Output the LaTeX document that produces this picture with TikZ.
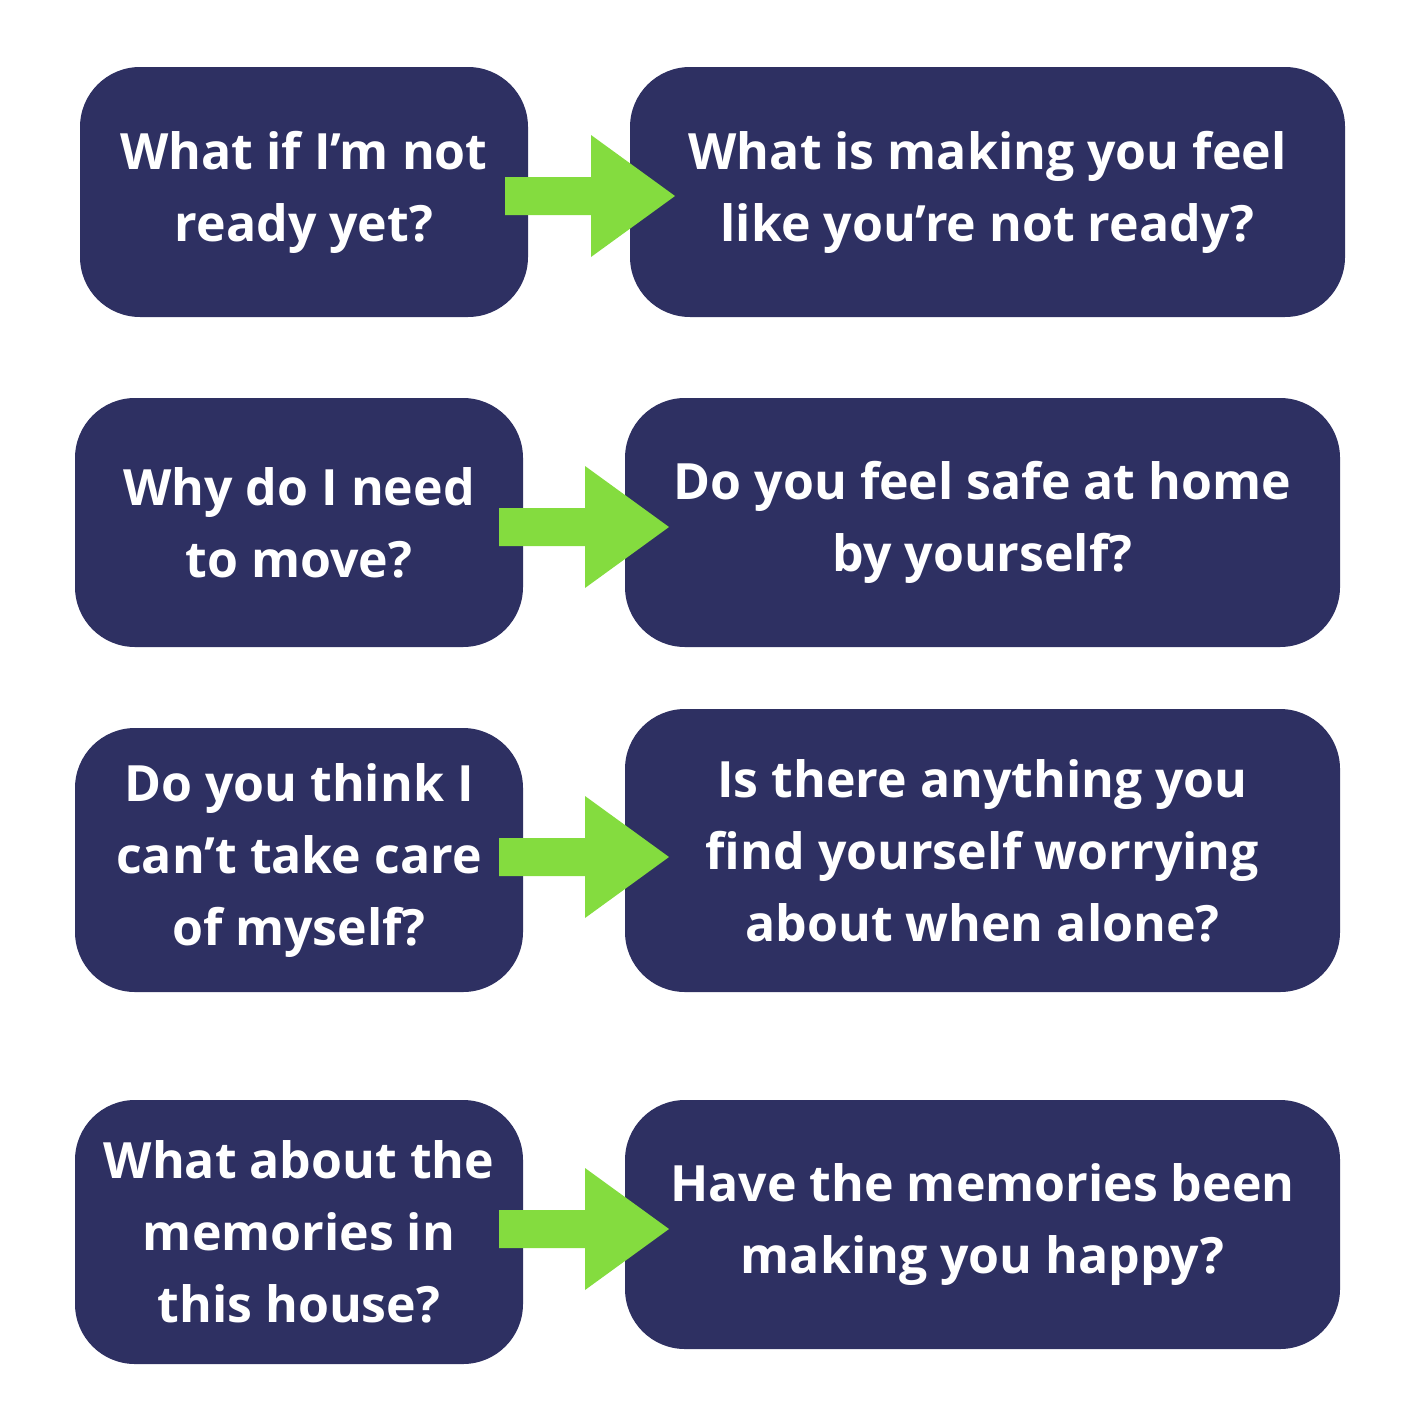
\documentclass[tikz,border=0pt]{standalone}
\usepackage{fontspec}
\setmainfont{Open Sans}
\definecolor{navy}{HTML}{2E3062}
\definecolor{lime}{HTML}{84DC3F}
\begin{document}
\begin{tikzpicture}[x=1pt,y=-1pt,
  box/.style={fill=navy,rounded corners=60pt,text=white,align=center,
    font=\fontsize{50}{72}\selectfont\bfseries,inner sep=0pt},
  arr/.style={fill=lime}]
\useasboundingbox (0,0) rectangle (1415,1405);
\newcommand\qbox[6]{\node[box,minimum width=#3-#1,minimum height=#4-#2] (#5) at ({(#1+#3)/2},{(#2+#4)/2}) {#6};}
\qbox{80}{67}{528}{317}{l1}{What if I'm not\\ready yet?}
\qbox{630}{67}{1345}{317}{r1}{What is making you feel\\like you're not ready?}
\qbox{75}{398}{523}{647}{l2}{Why do I need\\to move?}
\qbox{625}{398}{1340}{647}{r2}{Do you feel safe at home\\by yourself?}
\qbox{75}{728}{523}{992}{l3}{Do you think I\\can't take care\\of myself?}
\qbox{625}{709}{1340}{992}{r3}{Is there anything you\\find yourself worrying\\about when alone?}
\qbox{75}{1100}{523}{1364}{l4}{What about the\\memories in\\this house?}
\qbox{625}{1100}{1340}{1349}{r4}{Have the memories been\\making you happy?}
\newcommand\garrow[3]{\fill[arr] (#1,#2-19) -- (#1+86,#2-19) -- (#1+86,#2-61) -- (#1+170,#2) -- (#1+86,#2+61) -- (#1+86,#2+19) -- (#1,#2+19) -- cycle;}
\garrow{505}{196}{}
\garrow{499}{527}{}
\garrow{499}{857}{}
\garrow{499}{1229}{}
\end{tikzpicture}
\end{document}
